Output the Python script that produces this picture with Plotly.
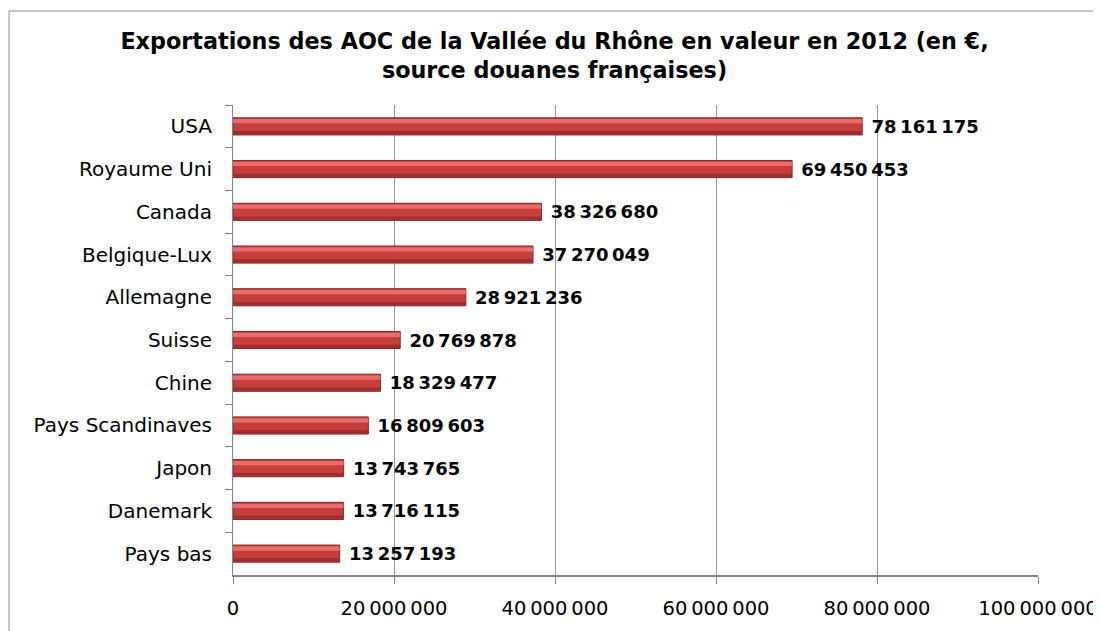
import plotly.graph_objects as go

countries = ["USA", "Royaume Uni", "Canada", "Belgique-Lux", "Allemagne", "Suisse",
             "Chine", "Pays Scandinaves", "Japon", "Danemark", "Pays bas"]
values = [78161175, 69450453, 38326680, 37270049, 28921236, 20769878,
          18329477, 16809603, 13743765, 13716115, 13257193]
x_ticks = [0, 20000000, 40000000, 60000000, 80000000, 100000000]

def fmt(v):
    return f"{v:,}".replace(",", "\u2009")

labels = ["\u00a0" + fmt(v) for v in values]
x_tick_text = [fmt(v) for v in x_ticks]

# page has an 8px body margin, so the figure is drawn 8px in from the top-left
W, H = 1093, 623
L, R, T, B = 225, 63, 97, 56
pw, ph = W - L - R, H - T - B

fig = go.Figure()
fig.add_trace(go.Bar(
    y=countries, x=values, orientation="h",
    width=0.40, offset=-0.20,
    marker=dict(color="#C63F3D", line=dict(color="#7A2624", width=1)),
    text=labels, textposition="outside", cliponaxis=False, constraintext="none",
    textfont=dict(family="DejaVu Sans", size=18, color="#000000", weight="bold"),
    hoverinfo="skip",
))
fig.add_trace(go.Bar(
    y=countries, x=values, orientation="h",
    width=0.07, offset=0.11,
    marker=dict(color="#9C2F2D", line=dict(width=0)),
    hoverinfo="skip",
))
fig.add_trace(go.Bar(
    y=countries, x=values, orientation="h",
    width=0.10, offset=-0.17,
    marker=dict(color="#EA6C6A", line=dict(width=0)),
    hoverinfo="skip",
))

fig.update_layout(
    width=W, height=H,
    margin=dict(l=L, r=R, t=T, b=B, autoexpand=False),
    barmode="overlay",
    showlegend=False,
    paper_bgcolor="white", plot_bgcolor="white",
    title=dict(
        text="Exportations des AOC de la Vallée du Rhône en valeur en 2012 (en €,<br>source douanes françaises)",
        x=0.5, xanchor="center", y=1 - 41 / H, yanchor="middle",
        font=dict(family="DejaVu Sans", size=22.3, color="#000000", weight="bold"),
    ),
    xaxis=dict(
        range=[0, 100000000], tickvals=x_ticks, ticktext=x_tick_text,
        showgrid=True, gridcolor="#9A9A9A", gridwidth=1,
        showline=True, linecolor="#868686", linewidth=2,
        ticks="outside", ticklen=7, tickcolor="#868686",
        tickfont=dict(family="DejaVu Sans", size=19.5, color="#000000"),
        ticklabelstandoff=8, zeroline=False, automargin=False,
    ),
    yaxis=dict(
        autorange="reversed", categoryorder="array", categoryarray=countries,
        showline=True, linecolor="#868686", linewidth=1,
        ticks="outside", ticklen=7, tickcolor="#868686", tickson="boundaries",
        tickfont=dict(family="DejaVu Sans", size=20, color="#000000"),
        ticklabelstandoff=16, showgrid=False, automargin=False,
    ),
    shapes=[dict(
        type="rect", xref="paper", yref="paper",
        x0=(1 - L) / pw, x1=(1110 - L) / pw,
        y0=(H - B - 650) / ph, y1=(H - B - 3) / ph,
        line=dict(color="#8E8E8E", width=1), fillcolor="rgba(0,0,0,0)", layer="below",
    )],
)

fig.write_html("out.html")
